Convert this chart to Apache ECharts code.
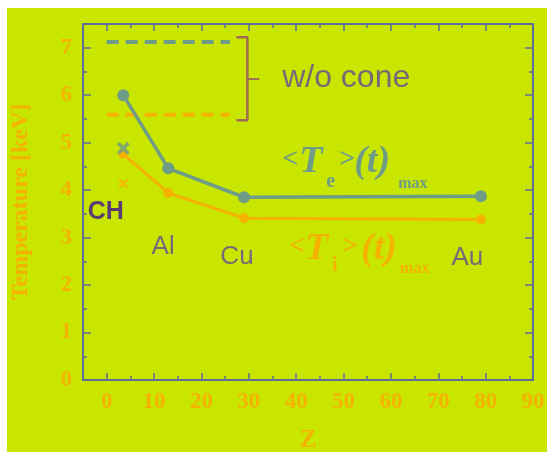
<!DOCTYPE html>
<html><head><meta charset="utf-8">
<script src="https://cdn.jsdelivr.net/npm/echarts@6/dist/echarts.min.js"></script>
<style>html,body{margin:0;padding:0;background:#fff;}
#bg{position:absolute;left:7px;top:8px;width:540px;height:444px;background:#c8e600;}
#chart{position:absolute;left:0;top:0;width:547px;height:452px;}
</style></head><body><div id="bg"></div><div id="chart"></div>
<script>
// ---- data ----
const materials = ['CH', 'Al', 'Cu', 'Au'];
const zValues = [3.5, 13, 29, 79];
const teMax = [6.0, 4.46, 3.85, 3.87];
const tiMax = [4.76, 3.94, 3.41, 3.38];
const crossZ = 3.5;
const teCross = 4.88;
const tiCross = 4.14;
const woConeZ = [0, 26];
const woConeTe = 7.12;
const woConeTi = 5.59;
const bracketPath = [[27.4, 7.22], [29.7, 7.22], [29.7, 5.47], [27.4, 5.47]];
const bracketTick = [[29.7, 6.34], [32.2, 6.34]];
const xRange = [-5, 90];
const yRange = [0, 7.5];
const xMajorTicks = [0, 10, 20, 30, 40, 50, 60, 70, 80, 90];
const xMinorTicks = [5, 15, 25, 35, 45, 55, 65, 75, 85];
// annotation anchors (data coords)
const materialLabelPos = [[-4, 3.54], [9.47, 2.8], [24, 2.59], [72.8, 2.58]];
const woConeLabel = 'w/o cone';
const woConeLabelPos = [37.05, 6.35];
const teLabelPos = [37.05, 4.32];
const tiLabelPos = [38.5, 2.48];

// ---- styles ----
const ORANGE = '#f5b300';
const TEAL = '#6f9c86';
const AXIS = '#5f6f9a';
const GRAYTXT = '#7a6878';
const CHCOL = '#5c3d72';
const BRACKET = '#a06a58';
const SERIF = '"Liberation Serif", "DejaVu Serif", serif';
const SANS = '"Liberation Sans", Arial, sans-serif';

const labelStyle = { margin: 11, fontFamily: SERIF, fontSize: 23, fontWeight: 'bold', color: ORANGE };
const axisLineStyle = { show: true, onZero: false, lineStyle: { color: AXIS, width: 2 } };

function xAxisDef(position, showLabel) {
  return {
    type: 'value', position: position, min: xRange[0], max: xRange[1], interval: 5,
    axisLine: axisLineStyle, splitLine: { show: false },
    axisTick: { show: true, inside: true, length: 7, customValues: xMajorTicks, lineStyle: { color: AXIS, width: 1.5 } },
    axisLabel: Object.assign({ show: showLabel, customValues: xMajorTicks }, labelStyle),
    name: showLabel ? 'Z' : '', nameLocation: 'middle', nameGap: 48,
    nameTextStyle: { fontFamily: SERIF, fontSize: 25, fontWeight: 'bold', color: ORANGE }
  };
}
function xMinorAxisDef(position) {
  return {
    type: 'value', position: position, min: xRange[0], max: xRange[1], interval: 5,
    axisLine: { show: false, onZero: false }, splitLine: { show: false },
    axisTick: { show: true, inside: true, length: 4, customValues: xMinorTicks, lineStyle: { color: AXIS, width: 1.5 } },
    axisLabel: { show: false }
  };
}
function yAxisDef(position, showLabel) {
  return {
    type: 'value', position: position, min: yRange[0], max: yRange[1], interval: 1,
    axisLine: axisLineStyle, splitLine: { show: false },
    axisTick: { show: true, inside: true, length: 8, lineStyle: { color: AXIS, width: 1.5 } },
    minorTick: { show: true, splitNumber: 2, length: 4, lineStyle: { color: AXIS, width: 1.5 } },
    axisLabel: Object.assign({ show: showLabel,
      formatter: v => (Math.abs(v % 1) < 1e-9) ? String(v) : '' }, labelStyle),
    name: showLabel ? 'Temperature [keV]' : '', nameLocation: 'middle', nameGap: 50, nameRotate: 90,
    nameTextStyle: { fontFamily: SERIF, fontSize: 24, fontWeight: 'bold', color: ORANGE }
  };
}

const chart = echarts.init(document.getElementById('chart'), null, { renderer: 'canvas' });
const crossSymbol = 'path://M0,2 L2,0 L5,3 L8,0 L10,2 L7,5 L10,8 L8,10 L5,7 L2,10 L0,8 L3,5 Z';
const gridRect = { left: 83, top: 24, right: 14, bottom: 72, containLabel: false, outerBoundsMode: 'none' };

chart.setOption({
  animation: false,
  backgroundColor: 'transparent',
  grid: [Object.assign({ show: false }, gridRect), Object.assign({ show: false }, gridRect)],
  xAxis: [
    Object.assign(xAxisDef('bottom', true), { gridIndex: 0 }),
    Object.assign(xAxisDef('top', false), { gridIndex: 0 }),
    Object.assign(xMinorAxisDef('bottom'), { gridIndex: 1 }),
    Object.assign(xMinorAxisDef('top'), { gridIndex: 1 })
  ],
  yAxis: [
    Object.assign(yAxisDef('left', true), { gridIndex: 0 }),
    Object.assign(yAxisDef('right', false), { gridIndex: 0 }),
    { type: 'value', gridIndex: 1, min: yRange[0], max: yRange[1], show: false }
  ],
  series: [
    { type: 'line', name: 'Te', data: zValues.map((z, i) => [z, teMax[i]]),
      symbol: 'circle', symbolSize: 12, itemStyle: { color: TEAL }, lineStyle: { color: TEAL, width: 3.5 }, z: 5 },
    { type: 'line', name: 'Ti', data: zValues.map((z, i) => [z, tiMax[i]]),
      symbol: 'circle', symbolSize: 10, itemStyle: { color: ORANGE }, lineStyle: { color: ORANGE, width: 3 }, z: 5 },
    { type: 'scatter', data: [[crossZ, teCross]], symbol: crossSymbol, symbolSize: 13, itemStyle: { color: TEAL }, z: 6 },
    { type: 'scatter', data: [[crossZ, tiCross]], symbol: crossSymbol, symbolSize: 10, itemStyle: { color: ORANGE }, z: 6 },
    { type: 'line', data: woConeZ.map(z => [z, woConeTe]), symbol: 'none',
      lineStyle: { color: TEAL, width: 4, type: [12, 7] }, z: 4 },
    { type: 'line', data: woConeZ.map(z => [z, woConeTi]), symbol: 'none',
      lineStyle: { color: ORANGE, width: 4, type: [12, 7] }, z: 4 },
    { type: 'line', data: bracketPath, symbol: 'none', lineStyle: { color: BRACKET, width: 2.5 }, z: 4 },
    { type: 'line', data: bracketTick, symbol: 'none', lineStyle: { color: BRACKET, width: 2 }, z: 4 }
  ]
});

function px(pt) { return chart.convertToPixel({ xAxisIndex: 0, yAxisIndex: 0 }, pt); }
const graphics = [];
materials.forEach((m, i) => {
  const p = px(materialLabelPos[i]);
  graphics.push({ type: 'text', x: p[0], y: p[1], z: 10,
    style: { text: m, font: (i === 0 ? 'bold 25px ' : '26px ') + SANS, fill: i === 0 ? CHCOL : GRAYTXT, align: 'left', verticalAlign: 'middle' } });
});
{
  const p = px(woConeLabelPos);
  graphics.push({ type: 'text', x: p[0], y: p[1], z: 10,
    style: { text: woConeLabel, font: '32px ' + SANS, fill: GRAYTXT, align: 'left', verticalAlign: 'middle' } });
}
function mathLabel(anchor, color, pieces) {
  const p = px(anchor);
  pieces.forEach(pc => {
    graphics.push({ type: 'text', x: p[0] + pc.dx, y: p[1] + pc.dy, z: 10,
      style: { text: pc.t, font: pc.f, fill: color, align: 'left', verticalAlign: 'middle' } });
  });
}
mathLabel(teLabelPos, TEAL, [
  { t: '<', dx: 0, dy: -15, f: 'bold 28px ' + SERIF },
  { t: 'T', dx: 17, dy: -13, f: 'bold italic 38px ' + SERIF },
  { t: 'e', dx: 44, dy: 7, f: 'bold 20px ' + SERIF },
  { t: '>', dx: 57, dy: -15, f: 'bold 28px ' + SERIF },
  { t: '(t)', dx: 72, dy: -13, f: 'bold italic 38px ' + SERIF },
  { t: 'max', dx: 116, dy: 9, f: 'bold 16px ' + SERIF }
]);
mathLabel(tiLabelPos, ORANGE, [
  { t: '<', dx: 0, dy: -16, f: 'bold 28px ' + SERIF },
  { t: 'T', dx: 16, dy: -13, f: 'bold italic 38px ' + SERIF },
  { t: 'i', dx: 43, dy: 4, f: 'bold 20px ' + SERIF },
  { t: '>', dx: 53, dy: -16, f: 'bold 28px ' + SERIF },
  { t: '(t)', dx: 72, dy: -13, f: 'bold italic 38px ' + SERIF },
  { t: 'max', dx: 111, dy: 7, f: 'bold 16px ' + SERIF }
]);
chart.setOption({ graphic: graphics });
</script></body></html>
